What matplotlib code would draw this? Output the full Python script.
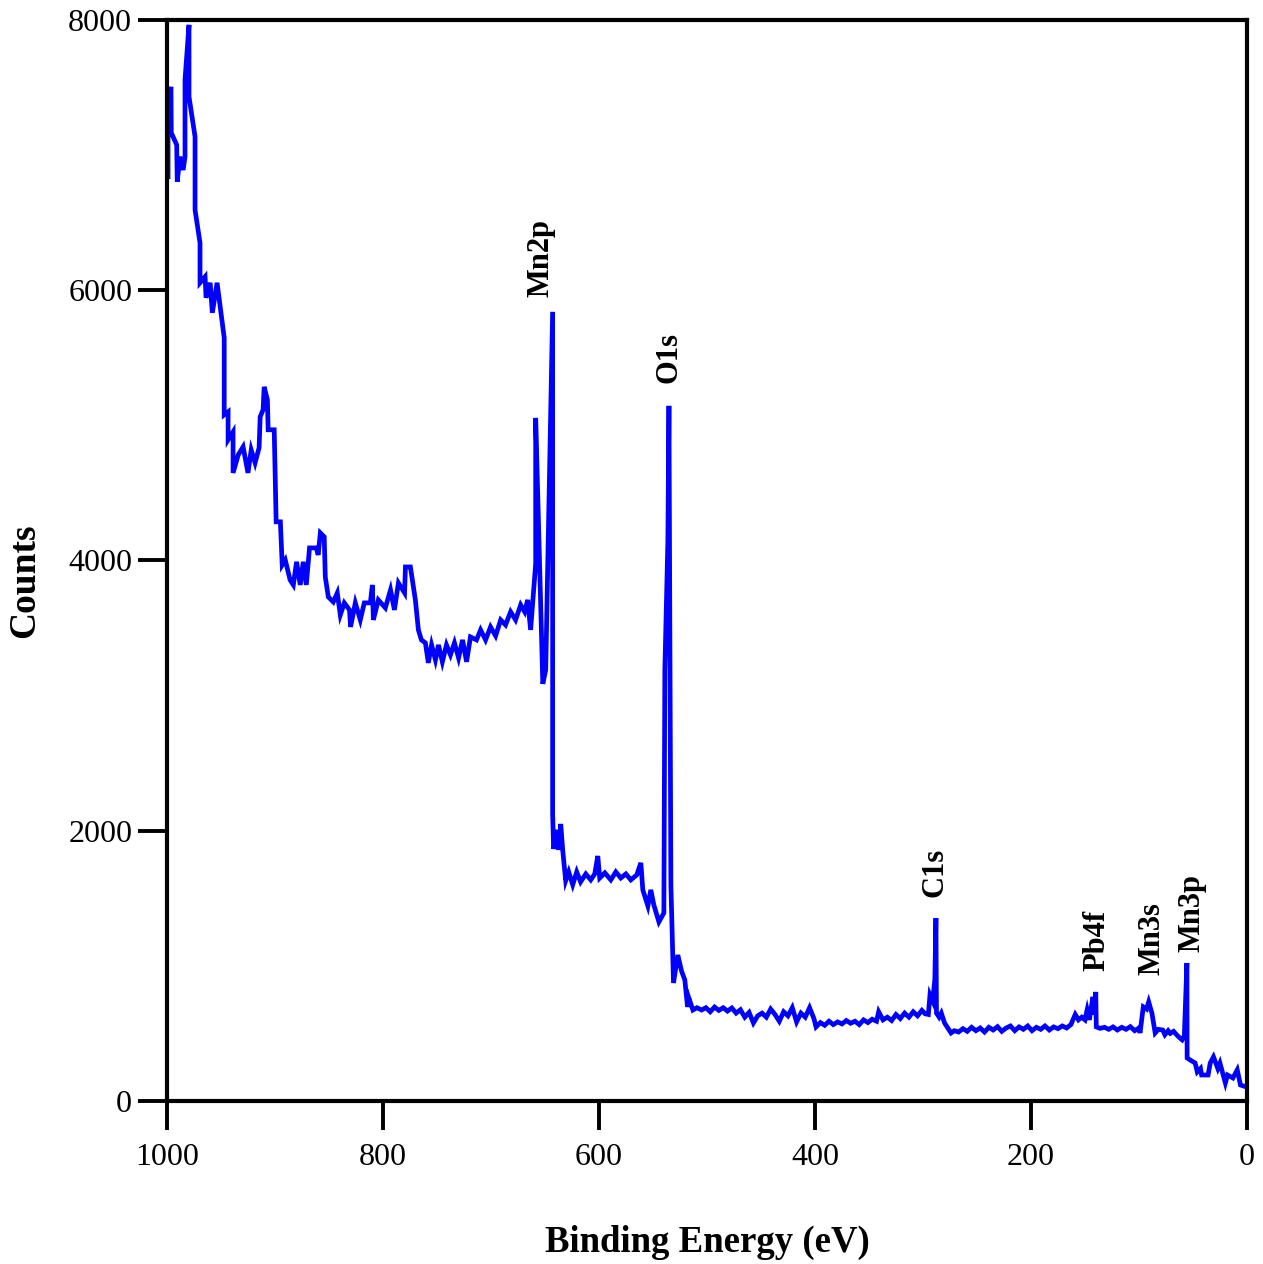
import matplotlib
matplotlib.use('Agg')
import matplotlib.pyplot as plt

plt.rcParams['font.family'] = ['Liberation Serif', 'DejaVu Serif']

# XPS survey spectrum
energy = [999, 999, 996.3, 996, 991, 990.5, 988, 985, 983.3, 983.3, 979.6, 979.6,
          974, 974, 969.4, 969.4, 964.7, 963.8, 960, 958, 953.6, 947, 947, 943.4,
          943.4, 938.8, 938.8, 934, 929.5, 925, 922, 918.4, 914.7, 913.7, 911, 910,
          907, 906.3, 900.7, 898.9, 895, 893.3, 890.5, 886, 883, 880, 876.6, 873.8,
          871, 868, 861.8, 860, 858, 854.4, 853.4, 850.6, 846, 842.3, 839.5, 835.8,
          831, 830, 825.6, 821, 817.3, 811.7, 809.8, 808.9, 804.3, 797.8, 793, 789.4,
          785.7, 780, 779.2, 774.6, 770, 767.2, 764.4, 760.7, 758, 755, 751.4, 748.6,
          745, 741.2, 737.5, 733.8, 730, 726.3, 722.6, 719, 713.4, 709.6, 705, 700.4,
          695.7, 691, 686.5, 681.8, 677.2, 672.5, 668.8, 666, 663.3, 658.6, 658.6,
          652, 649.3, 642.9, 642.9, 642, 639, 637.3, 635.4, 633.6, 630.8, 628, 624.3,
          620.6, 617, 612.2, 607.6, 603.9, 601.1, 599.3, 594.6, 589, 584.4, 579.8,
          575.1, 570.5, 565, 561.2, 559.4, 554.7, 552, 549.2, 544.5, 539.9, 539,
          536.2, 535.2, 533.4, 531, 527, 523.5, 520.5, 518, 516.7, 513,
          509.3, 505, 501, 497, 493, 489, 485, 481, 477, 473, 469, 465, 461, 457, 453,
          449, 445, 441, 437, 433, 429, 425, 421, 417, 413, 409, 405, 401, 399, 395,
          391, 387, 383, 379, 375, 371, 367, 363, 359, 355, 351, 347, 343, 341, 337,
          333, 329, 325, 321, 317, 313, 309, 305, 301, 298, 295, 293.5, 291, 289, 288,
          287.5, 285, 283, 280, 277, 274, 271, 267, 263, 259, 255, 251, 247, 243, 239,
          235, 231, 227, 223, 219, 215, 211, 207, 203, 199, 195, 191, 187, 183, 179,
          175, 171, 167, 163, 159, 156, 153, 150, 148, 146, 144, 142.6, 141, 140,
          139.5, 136, 132, 128, 124, 120, 116, 112, 108, 104, 100, 99, 96, 93, 91,
          88, 85, 82, 78, 76, 73, 71, 68, 64, 62, 60, 58, 55.6, 55.4, 52, 48, 46, 43,
          42, 36, 34, 31, 27, 25, 20, 18, 13, 9, 6, 3]
counts = [6840, 7390, 7505, 7165, 7076, 6803, 6988, 6890, 6988, 7557, 7964, 7432,
          7136, 6595, 6350, 6055, 6100, 5944, 6055, 5833, 6055, 5648, 5078, 5100,
          4893, 4952, 4648, 4782, 4841, 4648, 4818, 4722, 4834, 5063, 5115, 5285,
          5189, 4967, 4967, 4286, 4286, 3967, 4004, 3856, 3819, 3990, 3819, 3990,
          3819, 4093, 4093, 4041, 4204, 4175, 3878, 3730, 3693, 3760, 3597, 3686,
          3634, 3508, 3686, 3560, 3686, 3686, 3819, 3560, 3708, 3649, 3782, 3634,
          3834, 3760, 3952, 3952, 3708, 3486, 3412, 3390, 3242, 3375, 3264, 3375,
          3250, 3375, 3301, 3390, 3279, 3412, 3250, 3434, 3412, 3486, 3412, 3508,
          3442, 3560, 3523, 3620, 3560, 3671, 3620, 3708, 3486, 3975, 5055,
          3087, 3190, 5840, 2124, 1865, 2006, 1858, 2050, 1858, 1630, 1695, 1600,
          1695, 1621, 1680, 1636, 1680, 1813, 1650, 1688, 1636, 1695, 1650,
          1680, 1636, 1673, 1762, 1562, 1443, 1562, 1451, 1325, 1392, 3190,
          4145, 5144, 1600, 873, 1080, 960, 896, 696, 760, 673,
          690, 673, 690, 660, 695, 670, 690, 665, 688, 650, 675, 620, 655, 577, 630,
          650, 620, 680, 640, 590, 660, 630, 690, 585, 650, 620, 690, 610, 548, 580,
          560, 590, 565, 585, 570, 595, 575, 590, 565, 600, 580, 605, 590, 660, 600,
          620, 595, 640, 610, 650, 620, 660, 630, 670, 645, 640, 785, 740, 900, 1354,
          650, 620, 650, 577, 540, 503, 520, 510, 535, 515, 545, 520, 540, 510, 545,
          525, 550, 515, 540, 555, 520, 548, 530, 555, 520, 545, 530, 555, 525, 548,
          535, 555, 540, 565, 640, 600, 620, 600, 673, 600, 700, 770, 640, 807,
          548, 537, 545, 530, 548, 525, 545, 530, 550, 520, 540, 503, 696, 680, 733,
          650, 503, 530, 525, 490, 520, 500, 515, 480, 465, 452, 480, 1021, 318, 300,
          281, 215, 240, 192, 192, 281, 326, 240, 280, 133, 192, 170, 230, 118, 110]

peak_names = ['Mn2p', 'O1s', 'C1s', 'Pb4f', 'Mn3s', 'Mn3p']
peak_x = [654, 535, 289, 139, 88, 51]
peak_y = [5950, 5310, 1510, 960, 930, 1100]

fig = plt.figure(figsize=(12.63, 12.64), dpi=100)
ax = fig.add_axes([0.1322, 0.1290, 0.8551, 0.8552])

ax.plot(energy, counts, color='#0000ff', lw=3.4, solid_joinstyle='miter')

for name, px, py in zip(peak_names, peak_x, peak_y):
    ax.text(px, py, name, rotation=90, ha='center', va='bottom',
            fontsize=22, fontweight='bold')

ax.set_xlim(1000, 0)
ax.set_ylim(0, 8000)
ax.set_xticks([1000, 800, 600, 400, 200, 0])
ax.set_yticks([0, 2000, 4000, 6000, 8000])

for sp in ax.spines.values():
    sp.set_linewidth(3)
ax.tick_params(axis='both', direction='out', length=21, width=2.8,
               labelsize=23)
ax.tick_params(axis='x', pad=9)
ax.tick_params(axis='y', pad=4)

ax.set_xlabel('Binding Energy (eV)', fontsize=26.5, fontweight='bold')
ax.set_ylabel('Counts', fontsize=27, fontweight='bold')
ax.xaxis.set_label_coords(0.5, -0.1147)
ax.yaxis.set_label_coords(-0.1157, 0.481)

fig.savefig('out.png', dpi=100)
